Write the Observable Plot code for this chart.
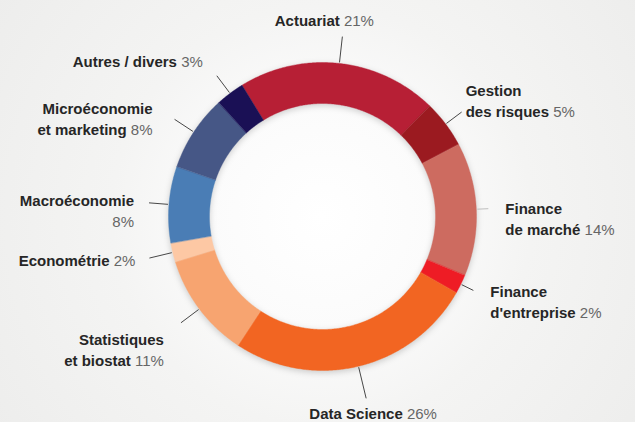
<!DOCTYPE html>
<html>
<head>
<meta charset="utf-8">
<script src="https://cdn.jsdelivr.net/npm/d3@7"></script>
<script src="https://cdn.jsdelivr.net/npm/@observablehq/plot@0.6"></script>
<style>
  html, body { margin: 0; padding: 0; }
  body {
    width: 635px; height: 422px; overflow: hidden;
    background: radial-gradient(circle at 322px 216px, #ffffff 0px, #fbfbfb 115px, #f4f4f3 210px, #ececeb 420px);
  }
  #chart svg { display: block; }
</style>
</head>
<body>
<div id="chart"></div>
<script>
// ---- data ----
const categories = [
  "Actuariat", "Gestion des risques", "Finance de marché", "Finance d'entreprise",
  "Data Science", "Statistiques et biostat", "Econométrie", "Macroéconomie",
  "Microéconomie et marketing", "Autres / divers"
];
const shares = [21, 5, 14, 2, 26, 11, 2, 8, 8, 3];
const labelNames = [
  "Actuariat", "Gestion\ndes risques", "Finance\nde marché", "Finance\nd'entreprise",
  "Data Science", "Statistiques\net biostat", "Econométrie", "Macroéconomie\n",
  "Microéconomie\net marketing", "Autres / divers"
];
const colors = [
  "#b71f35", "#9b1a20", "#cd6b60", "#ee1c25", "#f26522",
  "#f7a470", "#fdc8a4", "#4a7db5", "#465786", "#1a1055"
];

// ---- layout (kept apart from data) ----
const W = 635, H = 422;
const cx = 322, cy = 216, R = 154, r0 = 113;
const startDeg = -31.5;
const leaderLen = [27, 20, 12, 14, 33, 23, 24, 20, 23, 22];
const labelDx   = [-18, 4, 17, 17, 7, -17, -14, -15, -22, -14];
const labelDy   = [-17, -12, 9, 10, 14, 26, 1, 7, -2, -15];

const rows = categories.map((c, i) => ({name: c, value: shares[i], i}));
const pie = d3.pie().sort(null).value(d => d.value)
  .startAngle(startDeg * Math.PI / 180)
  .endAngle(startDeg * Math.PI / 180 + 2 * Math.PI);
const arcs = pie(rows);

const px = (a, r) => cx + r * Math.sin(a);
const py = (a, r) => cy - r * Math.cos(a);

// ring polygons
const ring = arcs.flatMap(a => {
  const n = Math.max(4, Math.ceil((a.endAngle - a.startAngle) / (Math.PI / 360)));
  const pts = [];
  for (let k = 0; k <= n; k++) {
    const t = a.startAngle + (a.endAngle - a.startAngle) * k / n;
    pts.push({name: a.data.name, x: px(t, R), y: py(t, R)});
  }
  for (let k = n; k >= 0; k--) {
    const t = a.startAngle + (a.endAngle - a.startAngle) * k / n;
    pts.push({name: a.data.name, x: px(t, r0), y: py(t, r0)});
  }
  return pts;
});

// leaders and labels
const labels = arcs.map(a => {
  const i = a.data.i;
  const m = (a.startAngle + a.endAngle) / 2;
  const r1 = R + 1, r2 = R + leaderLen[i];
  const x2 = px(m, r2), y2 = py(m, r2);
  const s = Math.sin(m);
  const anchor = Math.abs(s) < 0.3 ? "middle" : (s > 0 ? "start" : "end");
  const nm = labelNames[i];
  const text = nm.endsWith("\n") ? nm + a.data.value + "%" : nm + " " + a.data.value + "%";
  return {
    name: a.data.name,
    x1: px(m, r1), y1: py(m, r1), x2, y2,
    tx: x2 + labelDx[i], ty: y2 + labelDy[i],
    anchor, text
  };
});

const textOpts = (anchor) => ({
  x: "tx", y: "ty", text: "text",
  filter: d => d.anchor === anchor,
  textAnchor: anchor,
  fontSize: 15, lineHeight: 1.4,
  fill: "#262626", fontWeight: "bold"
});

const chart = Plot.plot({
  width: W, height: H, margin: 0,
  x: {domain: [0, W], range: [0, W], axis: null},
  y: {domain: [0, H], range: [0, H], axis: null},
  color: {domain: categories, range: colors},
  style: {background: "transparent", fontFamily: "'Liberation Sans', Arial, sans-serif", overflow: "visible"},
  marks: [
    Plot.line(ring, {x: "x", y: "y", z: "name", fill: "name", stroke: "name", strokeWidth: 0.4, curve: "linear-closed"}),
    Plot.link(labels, {
      x1: "x1", y1: "y1", x2: "x2", y2: "y2",
      stroke: d => d.name === "Finance de marché" ? "#b8b8b8" : "#333333",
      strokeWidth: 0.9
    }),
    Plot.text(labels, textOpts("start")),
    Plot.text(labels, textOpts("end")),
    Plot.text(labels, textOpts("middle"))
  ]
});

// style the percentage part of each label
function splitPct(el) {
  const s = el.textContent;
  const m = s.match(/^(.*?)(\d+%)$/);
  if (!m) return;
  el.textContent = m[1];
  const t = document.createElementNS("http://www.w3.org/2000/svg", "tspan");
  t.textContent = m[2];
  t.setAttribute("fill", "#666666");
  t.setAttribute("font-weight", "normal");
  el.appendChild(t);
}
chart.querySelectorAll("g[aria-label='text'] text").forEach(t => {
  const spans = t.querySelectorAll("tspan");
  if (spans.length) splitPct(spans[spans.length - 1]);
  else splitPct(t);
});
const ringG = chart.querySelector("g[aria-label='line']");
if (ringG) ringG.style.filter = "drop-shadow(0px 2px 3px rgba(0,0,0,0.18))";

document.getElementById("chart").appendChild(chart);
</script>
</body>
</html>
